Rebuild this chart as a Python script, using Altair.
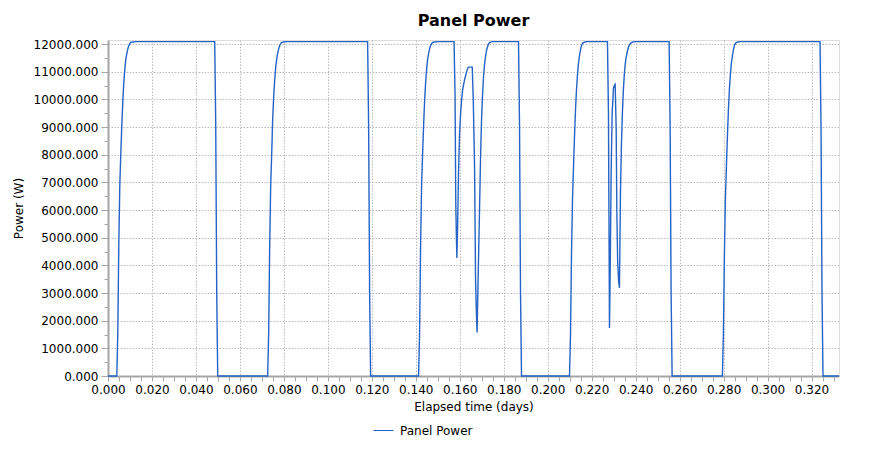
import altair as alt
import pandas as pd

# ---- data (elapsed days, panel power in W) ----
c1_days = [0.0, 0.004000, 0.004455, 0.004909, 0.005364, 0.005818, 0.006273, 0.006727, 0.007182,
           0.007636, 0.008091, 0.008545, 0.009000, 0.009455, 0.009909, 0.010364, 0.011273, 0.012636,
           0.048545, 0.049000, 0.049455, 0.049909]
c1_watts = [0, 0, 1570, 4720, 6890, 8030, 9050, 9930, 10590, 11080, 11440, 11660, 11830, 11940,
            12020, 12060, 12080, 12090, 12090, 9080, 3000, 0]

c2_days = [0.072636, 0.073091, 0.073545, 0.074000, 0.074455, 0.074909, 0.075364, 0.075818, 0.076273,
           0.076727, 0.077182, 0.077636, 0.078091, 0.078545, 0.079000, 0.079909, 0.081273,
           0.118091, 0.118545, 0.119000, 0.119455]
c2_watts = [0, 1570, 4720, 6890, 8030, 9300, 10100, 10700, 11150, 11460, 11670, 11830, 11950,
            12020, 12060, 12080, 12090, 12090, 9080, 3000, 0]

c3_days = [0.141273, 0.141727, 0.142182, 0.142636, 0.143091, 0.143545, 0.144000, 0.144455, 0.144909,
           0.145364, 0.145818, 0.146273, 0.146727, 0.147182, 0.147636, 0.148545, 0.149909,
           0.157409, 0.157864, 0.158182, 0.158409, 0.158682, 0.159000, 0.159455, 0.159909, 0.160364,
           0.160818, 0.161273, 0.161727, 0.162182, 0.162636, 0.163091, 0.163545, 0.164000, 0.165682,
           0.166136, 0.166727, 0.167182, 0.167500, 0.167864, 0.168091, 0.168545, 0.169000, 0.169455,
           0.169909, 0.170364, 0.170818, 0.171273, 0.171727, 0.172182, 0.172636, 0.173091, 0.173545,
           0.174636, 0.186727, 0.187182, 0.187636, 0.188091]
c3_watts = [0, 1570, 4720, 6890, 8030, 9050, 9930, 10590, 11080, 11440, 11660, 11830, 11940, 12020,
            12060, 12080, 12090,
            12090, 10130, 6260, 5290, 4270, 5290, 7400, 8750, 9480, 9950, 10320, 10530, 10710, 10850,
            10990, 11110, 11170, 11170, 10020, 7600, 3560, 2470, 1570, 2470, 4270, 6050, 7900, 9270,
            10170, 10830, 11280, 11550, 11770, 11910, 12010, 12060, 12090, 12090, 9080, 3000, 0]

c4_days = [0.209909, 0.210364, 0.210818, 0.211273, 0.211727, 0.212182, 0.212636, 0.213091, 0.213545,
           0.214000, 0.214455, 0.214909, 0.215364, 0.215818, 0.216591, 0.217818,
           0.227182, 0.227636, 0.227955, 0.228091, 0.228409, 0.228864, 0.229318, 0.229636, 0.229909,
           0.230364, 0.230682, 0.231136, 0.231455, 0.231818, 0.232273, 0.232636, 0.233091, 0.233545,
           0.234000, 0.234455, 0.234909, 0.235364, 0.235818, 0.236273, 0.236727, 0.237182, 0.237636,
           0.238409, 0.239773, 0.255227, 0.255682, 0.256136, 0.256591]
c4_watts = [0, 1460, 4350, 6370, 7540, 8630, 9600, 10350, 10890, 11310, 11580, 11790, 11940, 12030,
            12070, 12090,
            12090, 9530, 4330, 1740, 3670, 7400, 9530, 9950, 10410, 10520, 10550, 9000, 5950, 4150,
            3400, 3190, 6620, 8400, 9560, 10410, 10970, 11350, 11580, 11760, 11890, 11970, 12030,
            12070, 12090, 12090, 9080, 3000, 0]

c5_days = [0.279455, 0.279909, 0.280364, 0.280818, 0.281273, 0.281727, 0.282182, 0.282636, 0.283091,
           0.283545, 0.284000, 0.284455, 0.284909, 0.285364, 0.286136, 0.287364,
           0.323864, 0.324318, 0.324773, 0.325227, 0.3325]
c5_watts = [0, 1460, 4350, 6370, 7540, 8630, 9600, 10350, 10890, 11310, 11580, 11790, 11940, 12030,
            12070, 12090, 12090, 9080, 3000, 0, 0]

series_name = "Panel Power"
x_ticks = [round(i * 0.005, 3) for i in range(67)]
y_ticks = [i * 500 for i in range(25)]

days = c1_days + c2_days + c3_days + c4_days + c5_days
watts = c1_watts + c2_watts + c3_watts + c4_watts + c5_watts
df = pd.DataFrame({"days": days, "watts": watts, "series": series_name})

FONT = "DejaVu Sans"
LINE_COLOR = "#2563c6"
AXIS_GRAY = "#a6a6a6"
GRID_GRAY = "#bdbdbd"

X_MAJOR = "round(datum.value*1000) % 20 === 0"
Y_MAJOR = "round(datum.value) % 1000 === 0"

x_axis = alt.Axis(
    values=x_ticks,
    labelExpr=f"{X_MAJOR} ? format(datum.value, '.3f') : ''",
    gridOpacity={"condition": {"test": X_MAJOR, "value": 1}, "value": 0},
    gridColor={"condition": {"test": X_MAJOR, "value": GRID_GRAY}, "value": "transparent"},
    gridDash=[1.5, 1.5], gridWidth=1,
    domainColor=AXIS_GRAY, domainWidth=2,
    tickColor=AXIS_GRAY, tickSize=5, tickWidth=1,
    labelFont=FONT, labelFontSize=12, labelColor="black", labelPadding=3,
    labelOverlap=False, labelFlush=False, labelBound=False,
    title="Elapsed time (days)", titleFont=FONT, titleFontSize=12, titleFontWeight="normal",
    titleColor="black", titlePadding=6,
)
y_axis = alt.Axis(
    values=y_ticks,
    labelExpr=f"{Y_MAJOR} ? format(datum.value, '.3f') : ''",
    gridOpacity={"condition": {"test": Y_MAJOR, "value": 1}, "value": 0},
    gridColor={"condition": {"test": Y_MAJOR, "value": GRID_GRAY}, "value": "transparent"},
    tickSize={"condition": {"test": Y_MAJOR, "value": 7}, "value": 4},
    gridDash=[1.5, 1.5], gridWidth=1,
    domainColor=AXIS_GRAY, domainWidth=2,
    tickColor=AXIS_GRAY, tickWidth=1,
    labelFont=FONT, labelFontSize=12, labelColor="black", labelPadding=3,
    labelOverlap=False, labelBound=False,
    title="Power (W)", titleFont=FONT, titleFontSize=12, titleFontWeight="normal",
    titleColor="black", titlePadding=8,
)

chart = alt.Chart(df).mark_line(strokeWidth=1.4).encode(
    x=alt.X("days:Q", scale=alt.Scale(domain=[0, 0.3325], nice=False, zero=False), axis=x_axis),
    y=alt.Y("watts:Q", scale=alt.Scale(domain=[0, 12150], nice=False), axis=y_axis),
    color=alt.Color(
        "series:N",
        scale=alt.Scale(domain=[series_name], range=[LINE_COLOR]),
        legend=alt.Legend(
            orient="none", legendX=265, legendY=380, title=None,
            symbolType="stroke", symbolSize=400, symbolStrokeWidth=1,
            labelFont=FONT, labelFontSize=12, labelColor="black", padding=0, labelOffset=6,
        ),
    ),
).properties(
    width=731,
    height=336,
    autosize=alt.AutoSizeParams(type="none"),
    padding={"left": 100, "top": 32, "right": 32, "bottom": 70},
    title=alt.TitleParams(
        "Panel Power", font=FONT, fontSize=16, fontWeight="bold", color="black",
        anchor="middle", frame="group", offset=9,
    ),
).configure_view(stroke=None).configure(background="white")

chart.save("out.html", embed_options={"renderer": "svg", "actions": False})
